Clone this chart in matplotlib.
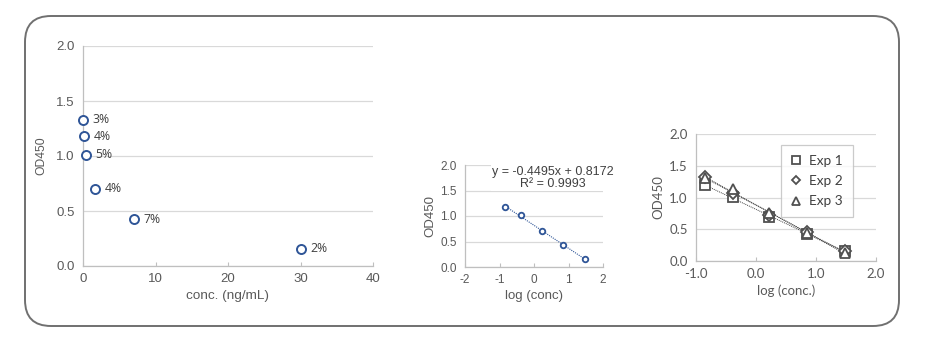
import numpy as np
import matplotlib
matplotlib.use("Agg")
import matplotlib.pyplot as plt
from matplotlib.patches import FancyBboxPatch

plt.rcParams["axes.unicode_minus"] = False

# standard curve data
conc = [0.0, 0.14, 0.41, 1.67, 7.0, 30.0]
od450 = [1.33, 1.18, 1.01, 0.70, 0.425, 0.155]
od_err = [0.03, 0.03, 0.0, 0.0, 0.0, 0.0]
cv_labels = ["3%", "4%", "5%", "4%", "7%", "2%"]

log_conc = [-0.85, -0.39, 0.22, 0.85, 1.48]
od_log = [1.18, 1.01, 0.70, 0.425, 0.155]
fit_slope = -0.4495
fit_icpt = 0.8172
fit_r2 = 0.9993

exp_names = ["Exp 1", "Exp 2", "Exp 3"]
exp_markers = ["s", "D", "^"]
exp1 = [1.19, 1.01, 0.70, 0.42, 0.16]
exp2 = [1.33, 1.07, 0.73, 0.46, 0.15]
exp3 = [1.30, 1.13, 0.75, 0.44, 0.12]

W, H = 928, 343
BLUE = "#2f5597"
TXT = "#595959"
GRID = "#d9d9d9"


def px_axes(fig, left, right, top, bottom):
    return fig.add_axes([left / W, 1 - bottom / H, (right - left) / W, (bottom - top) / H])


def style(ax, font, size):
    for s in ["top", "right"]:
        ax.spines[s].set_visible(False)
    for s in ["left", "bottom"]:
        ax.spines[s].set_color("#bfbfbf")
        ax.spines[s].set_linewidth(0.9)
    ax.grid(axis="y", color=GRID, lw=0.9)
    ax.set_axisbelow(True)
    ax.tick_params(axis="y", length=0, pad=6, labelsize=size, colors=TXT)
    ax.tick_params(axis="x", direction="in", length=3, color="#bfbfbf",
                   pad=5, labelsize=size, labelcolor=TXT)
    for lb in ax.get_xticklabels() + ax.get_yticklabels():
        lb.set_fontfamily(font)


fig = plt.figure(figsize=(W / 100, H / 100), dpi=100)

# rounded frame
frame = FancyBboxPatch((25 / W, 1 - 326 / H), 874 / W, 310 / H,
                       boxstyle="round,pad=0,rounding_size=0.028",
                       transform=fig.transFigure, fc="none", ec="#707070",
                       lw=1.4, mutation_aspect=W / H)
fig.patches.append(frame)

# panel 1
ax1 = px_axes(fig, 83, 373, 46, 266)
ax1.set_xlim(0, 40)
ax1.set_ylim(0, 2.0)
ax1.set_xticks([0, 10, 20, 30, 40])
ax1.set_yticks([0, 0.5, 1.0, 1.5, 2.0])
ax1.yaxis.set_major_formatter(plt.FormatStrFormatter("%.1f"))
style(ax1, "Liberation Sans", 9.5)
ax1.errorbar(conc, od450, yerr=od_err, fmt="o", ms=6.5, mfc="white", mec=BLUE,
             mew=1.4, ecolor=BLUE, elinewidth=1, capsize=0, clip_on=False, zorder=3)
for x, y, t in zip(conc, od450, cv_labels):
    ax1.annotate(t, (x, y), xytext=(7, 0), textcoords="offset points",
                 va="center", ha="left", fontsize=8.8, color="#404040", family="Open Sans")
ax1.set_ylabel("OD450", fontsize=8.7, color=TXT, family="Liberation Sans", labelpad=6)
ax1.set_xlabel("conc. (ng/mL)", fontsize=9.7, color=TXT, family="Liberation Sans", labelpad=4)

# panel 2
ax2 = px_axes(fig, 465, 603, 165, 267)
ax2.set_xlim(-2, 2)
ax2.set_ylim(0, 2.0)
ax2.set_xticks([-2, -1, 0, 1, 2])
ax2.set_yticks([0, 0.5, 1.0, 1.5, 2.0])
ax2.yaxis.set_major_formatter(plt.FormatStrFormatter("%.1f"))
style(ax2, "Liberation Sans", 8.5)
fx = np.array([log_conc[0], log_conc[-1]])
ax2.plot(fx, fit_slope * fx + fit_icpt, ls=(0, (1, 1)), color=BLUE, lw=0.8, zorder=2)
ax2.plot(log_conc, od_log, "o", ms=4, mfc="white", mec=BLUE, mew=1.3, zorder=3)
eq = "y = %.4fx + %.4f\nR² = %.4f" % (fit_slope, fit_icpt, fit_r2)
ax2.text(0.55, 1.98, eq, ha="center", va="top", fontsize=9, color="#404040",
         family="Liberation Sans", linespacing=1.0, zorder=4,
         bbox=dict(fc="white", ec="none", pad=1.0))
ax2.set_ylabel("OD450", fontsize=9.5, color=TXT, family="Liberation Sans", labelpad=3)
ax2.set_xlabel("log (conc)", fontsize=9.5, color=TXT, family="Liberation Sans", labelpad=3)

# panel 3
ax3 = px_axes(fig, 696, 876, 134, 261)
ax3.set_xlim(-1.0, 2.0)
ax3.set_ylim(0, 2.0)
ax3.set_xticks([-1.0, 0.0, 1.0, 2.0])
ax3.set_yticks([0, 0.5, 1.0, 1.5, 2.0])
ax3.xaxis.set_major_formatter(plt.FormatStrFormatter("%.1f"))
ax3.yaxis.set_major_formatter(plt.FormatStrFormatter("%.1f"))
style(ax3, "Lato", 9.5)
for name, mk, ys in zip(exp_names, exp_markers, [exp1, exp2, exp3]):
    k, b = np.polyfit(log_conc, ys, 1)
    ax3.plot(fx, k * fx + b, ls=(0, (1, 1)), color="#404040", lw=0.7, zorder=2)
    ax3.plot(log_conc, ys, mk, ms=7 if mk != "D" else 6, mfc="white", mec="#505050",
             mew=1.3, label=name, zorder=3)
leg = ax3.legend(loc="upper right", bbox_to_anchor=(0.87, 0.91), frameon=True,
                 fancybox=False, edgecolor="#bfbfbf", prop=dict(family="Lato", size=9.8),
                 handlelength=0.8, handletextpad=0.6, labelspacing=0.6, borderpad=0.7,
                 borderaxespad=0, markerscale=0.75, labelcolor="#404040")
leg.get_frame().set_linewidth(0.9)
ax3.set_ylabel("OD450", fontsize=9.5, color=TXT, family="Lato", labelpad=3)
ax3.set_xlabel("log (conc.)", fontsize=9.5, color=TXT, family="Lato", labelpad=3)

fig.savefig("out.png", dpi=100)
